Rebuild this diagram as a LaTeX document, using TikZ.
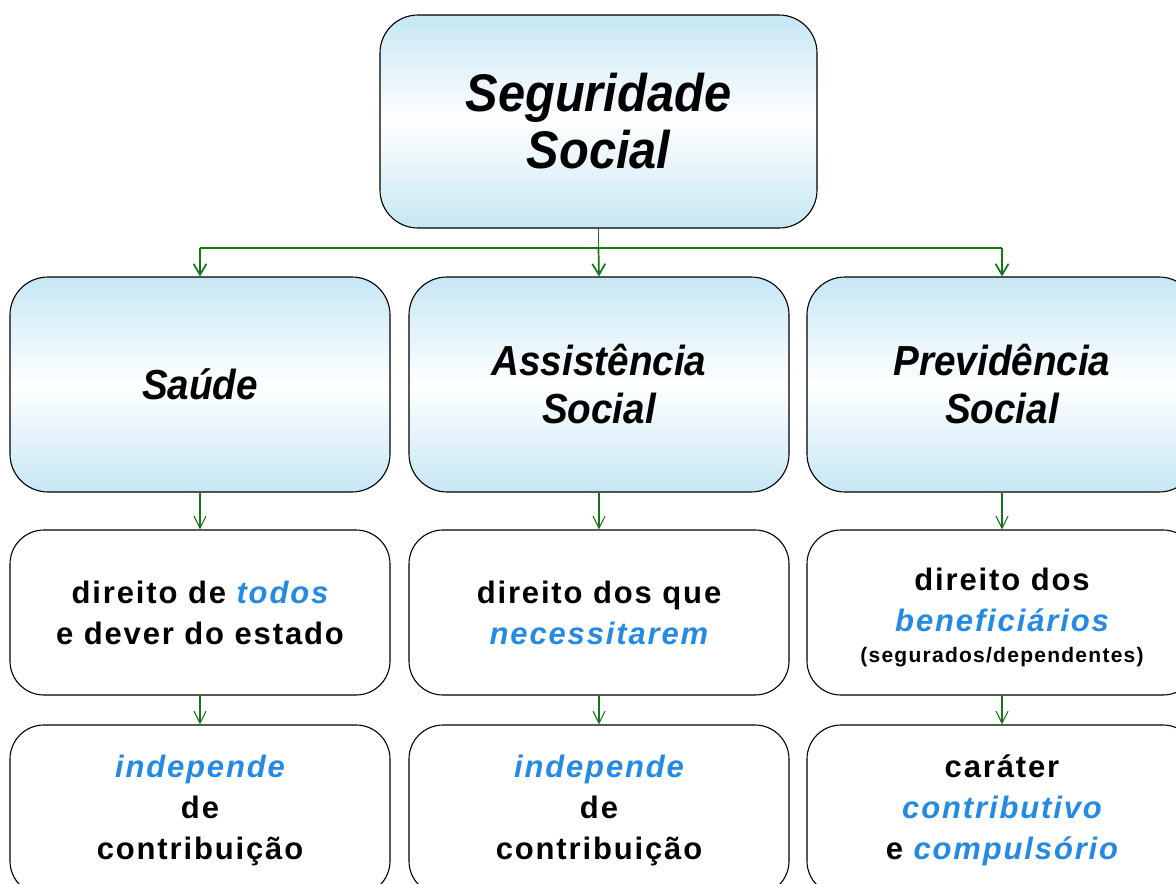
\documentclass[tikz,border=0pt]{standalone}
\usepackage{fontspec}
\setmainfont{Liberation Sans}
\newfontfamily\titlefont[FakeStretch=0.92]{Liberation Sans}
\newfontfamily\spacedfont[LetterSpace=6]{Liberation Sans}
\usetikzlibrary{arrows.meta}
\definecolor{lb}{RGB}{198,231,244}
\definecolor{hl}{RGB}{36,138,228}
\definecolor{gr}{RGB}{22,118,22}
\begin{document}
\begin{tikzpicture}[x=1pt,y=-1pt,
  box/.style={draw=black, line width=1.1pt, rounded corners=38pt, align=center, inner sep=0pt},
  shadebox/.style={box, top color=lb, bottom color=lb, middle color=white},
  whitebox/.style={box, fill=white, rounded corners=34pt},
  mainline/.style={draw=gr, line width=1.7pt},
  mainarrow/.style={mainline, -{Straight Barb[length=11pt,width=13pt]}},
  subarrow/.style={draw=gr, line width=1.1pt, -{Straight Barb[length=12pt,width=12pt]}},
  toptext/.style={font=\titlefont\fontsize{53}{57}\selectfont\bfseries\itshape},
  midtext/.style={font=\titlefont\fontsize{42}{48}\selectfont\bfseries\itshape},
  lowtext/.style={font=\spacedfont\fontsize{31}{41}\selectfont\bfseries}]
\clip (0,0) rectangle (1176,884);
\fill[white] (0,0) rectangle (1176,884);
\newcommand{\hi}[1]{\textcolor{hl}{\itshape #1}}
% top
\node[shadebox, toptext, minimum width=437pt, minimum height=213pt] (top) at (598.5,121.5) {Seguridade\\Social};
% row 2
\node[shadebox, midtext, minimum width=380pt, minimum height=215pt] (sau) at (200,384.5) {Saúde};
\node[shadebox, midtext, minimum width=380pt, minimum height=215pt] (ass) at (599,384.5) {Assistência\\Social};
\node[shadebox, midtext, minimum width=390pt, minimum height=215pt] (pre) at (1002,384.5) {Previdência\\Social};
% row 3
\node[whitebox, lowtext, minimum width=380pt, minimum height=165pt] (sau3) at (200,612.5) {direito de \hi{todos}\\e dever do estado};
\node[whitebox, lowtext, minimum width=380pt, minimum height=165pt] (ass3) at (599,612.5) {direito dos que\\\hi{necessitarem}};
\node[whitebox, lowtext, minimum width=390pt, minimum height=165pt] (pre3) at (1002,612.5) {\rule{0pt}{33pt}direito dos\\\hi{beneficiários}\\[-10pt]{\fontsize{21}{22}\selectfont (segurados/dependentes)}};
% row 4
\node[whitebox, lowtext, minimum width=380pt, minimum height=170pt] (sau4) at (200,810) {\hi{independe}\\de\\contribuição};
\node[whitebox, lowtext, minimum width=380pt, minimum height=170pt] (ass4) at (599,810) {\hi{independe}\\de\\contribuição};
\node[whitebox, lowtext, minimum width=390pt, minimum height=170pt] (pre4) at (1002,810) {caráter\\\hi{contributivo}\\e \hi{compulsório}};
% connectors
\coordinate (bus) at (598.5,248);
\coordinate (busl) at (sau.north |- bus);
\coordinate (busr) at (pre.north |- bus);
\draw[mainline] (top.south) -- (bus);
\draw[mainline] (busl) -- (busr);
\draw[mainarrow] (busl) -- (sau.north);
\draw[mainarrow] (bus) -- (ass.north);
\draw[mainarrow] (busr) -- (pre.north);
\draw[subarrow] (sau.south) -- (sau3.north);
\draw[subarrow] (ass.south) -- (ass3.north);
\draw[subarrow] (pre.south) -- (pre3.north);
\draw[subarrow] (sau3.south) -- (sau4.north);
\draw[subarrow] (ass3.south) -- (ass4.north);
\draw[subarrow] (pre3.south) -- (pre4.north);
\end{tikzpicture}
\end{document}
